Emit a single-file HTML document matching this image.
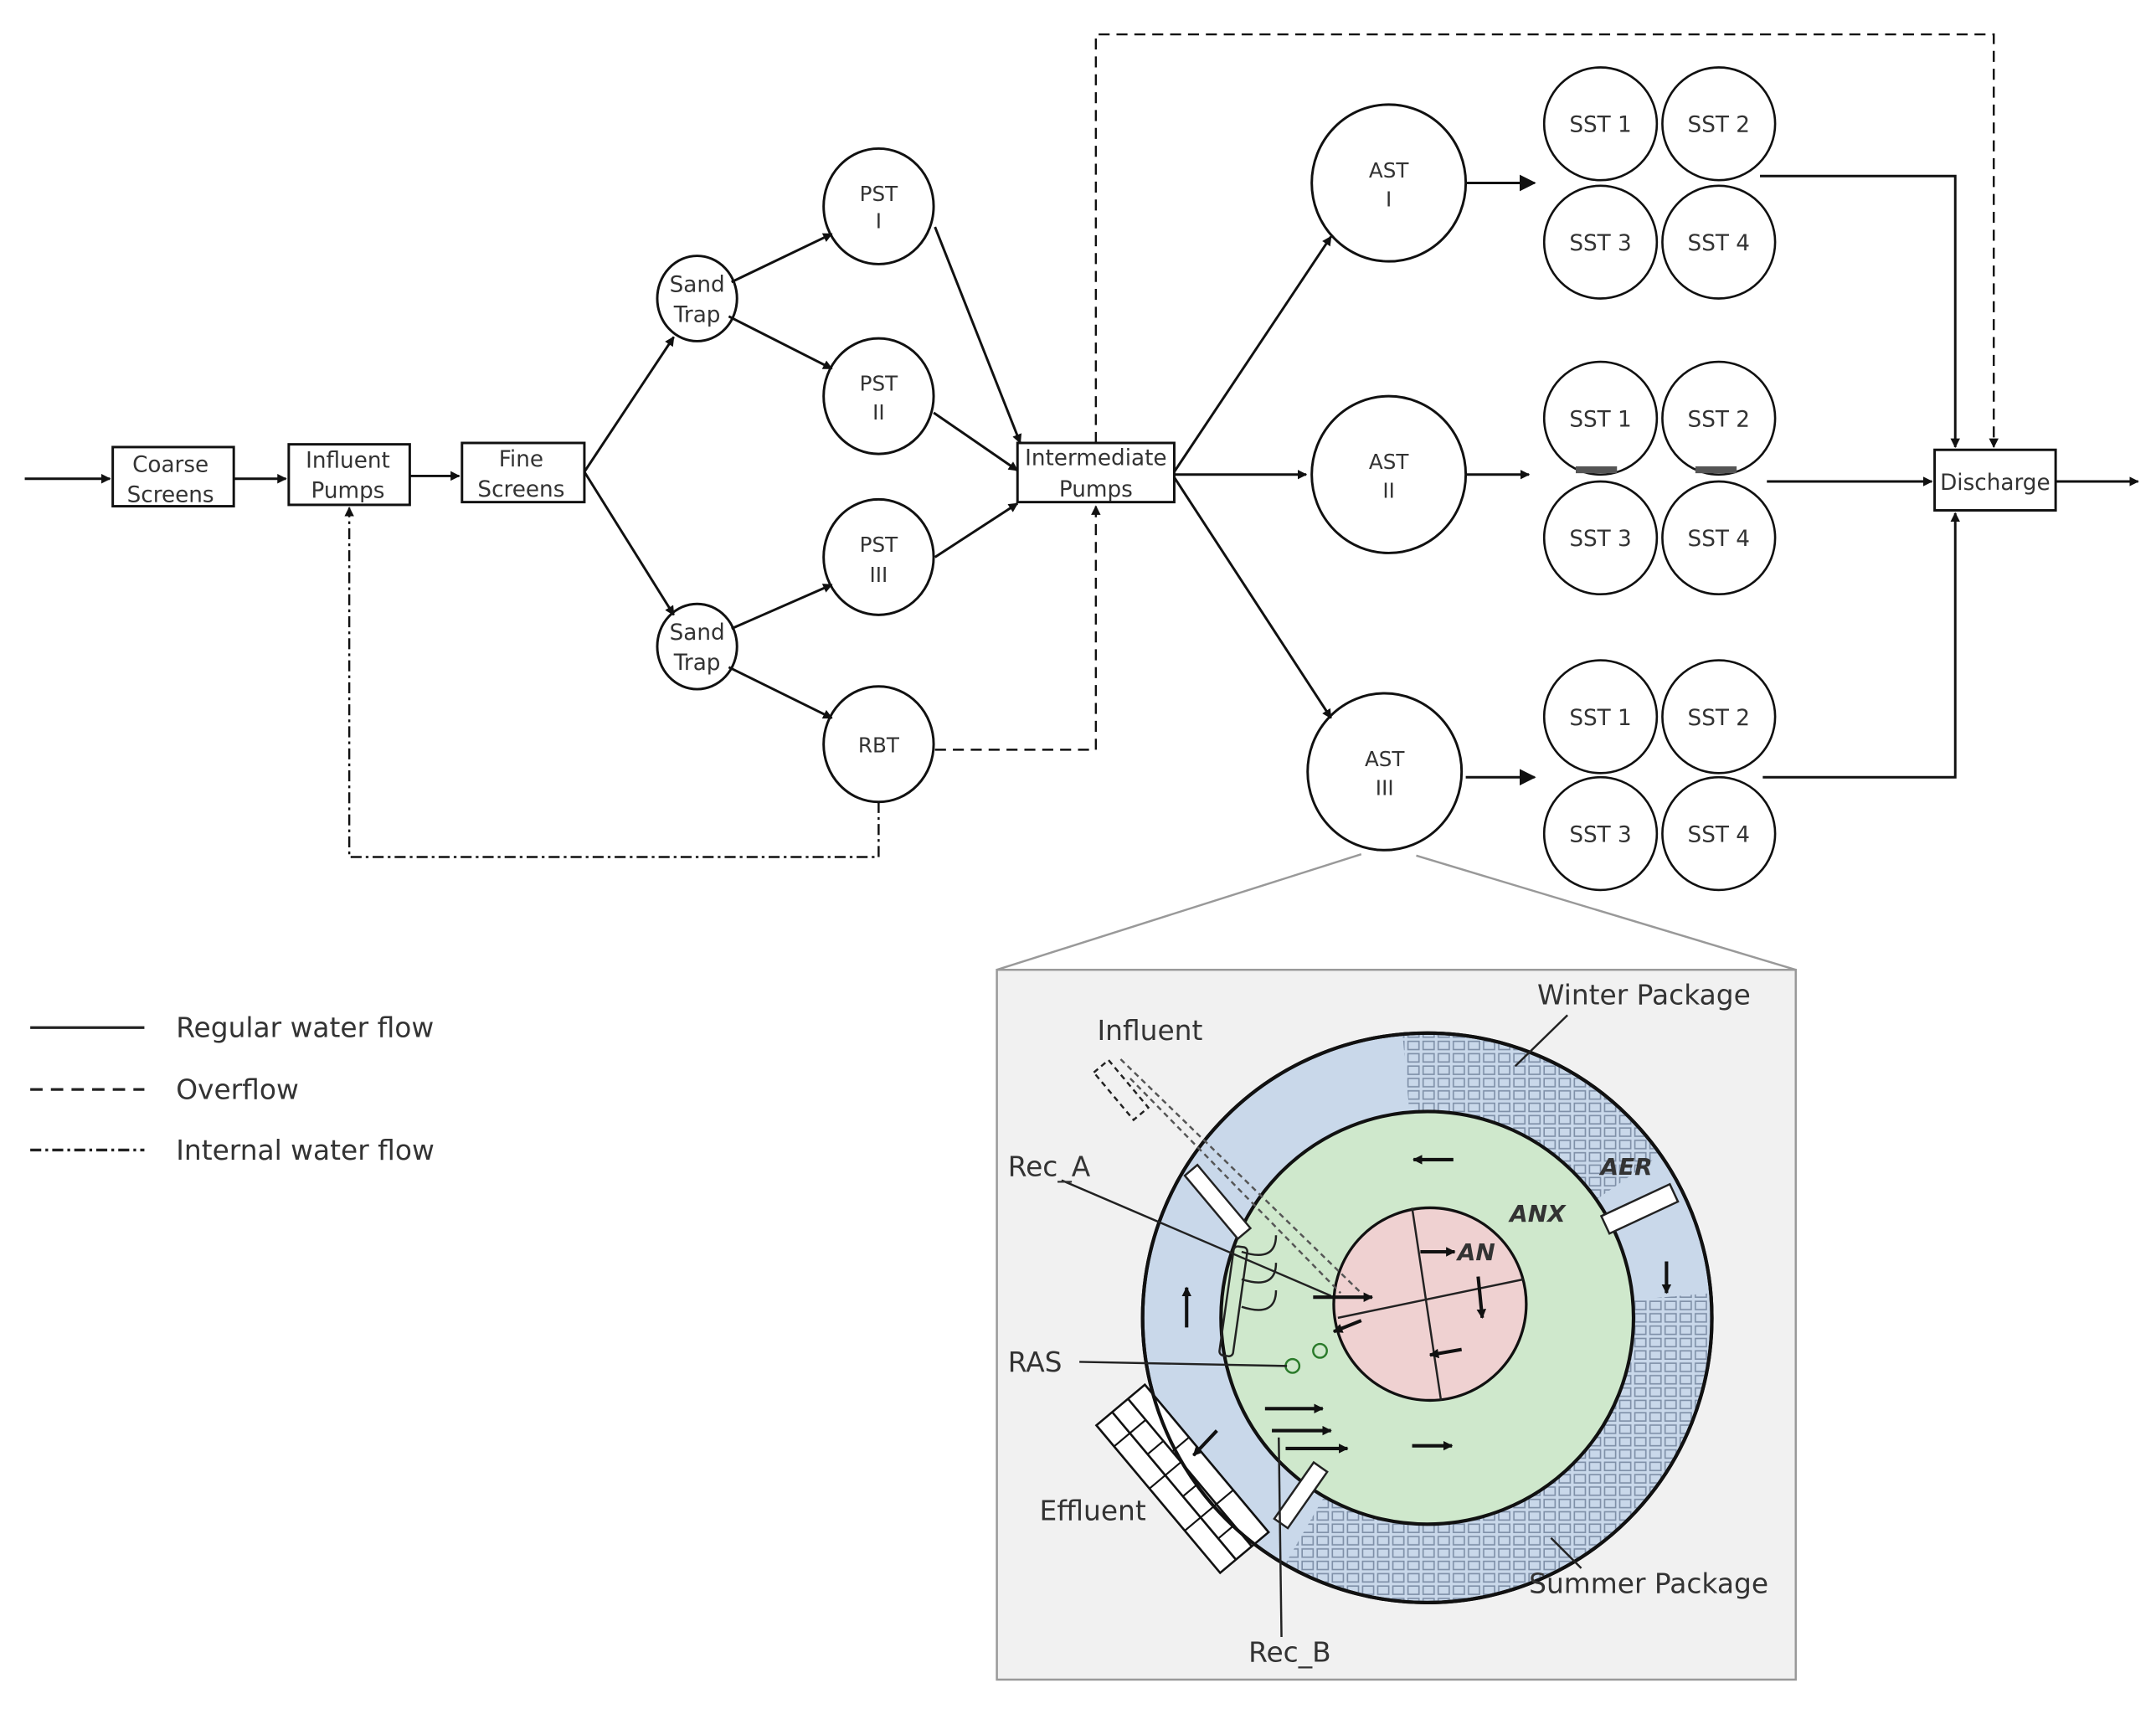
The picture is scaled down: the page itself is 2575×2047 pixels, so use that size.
<!DOCTYPE html>
<html><head><meta charset="utf-8"><style>
html,body{margin:0;padding:0;background:#fff;}
svg{display:block;}
text{font-family:"DejaVu Sans","Liberation Sans",sans-serif;fill:#333;}
</style></head><body>
<svg width="2575" height="2047" viewBox="0 0 1568 1246" preserveAspectRatio="none" xmlns="http://www.w3.org/2000/svg">
<defs>
<marker id="a" viewBox="0 0 10 10" refX="9" refY="5" markerWidth="7" markerHeight="7" orient="auto" markerUnits="userSpaceOnUse"><path d="M0,0 L10,5 L0,10 z" fill="#111"/></marker>
<marker id="b" viewBox="0 0 10 10" refX="9" refY="5" markerWidth="12" markerHeight="12" orient="auto" markerUnits="userSpaceOnUse"><path d="M0,0 L10,5 L0,10 z" fill="#111"/></marker>
<pattern id="pk" width="11" height="9" patternUnits="userSpaceOnUse"><rect x="1" y="1" width="8" height="6" fill="none" stroke="#7f90a8" stroke-width="1"/></pattern>
<clipPath id="aer"><path fill-rule="evenodd" d="M1038,751 a207,207 0 1,0 0.1,0 z M1038,808 a150,150 0 1,1 -0.1,0 z"/></clipPath>
</defs>
<rect width="1568" height="1246" fill="#fff"/>
<g stroke="#111" stroke-width="1.8" fill="none">
<rect x="82" y="325" width="88" height="43" fill="#fff"/>
<rect x="210" y="323" width="88" height="44" fill="#fff"/>
<rect x="336" y="322" width="89" height="43" fill="#fff"/>
<rect x="740" y="322" width="114" height="43" fill="#fff"/>
<rect x="1407" y="327" width="88" height="44" fill="#fff"/>
<ellipse cx="507" cy="217" rx="29" ry="31"/>
<ellipse cx="507" cy="470" rx="29" ry="31"/>
<ellipse cx="639" cy="150" rx="40" ry="42"/>
<ellipse cx="639" cy="288" rx="40" ry="42"/>
<ellipse cx="639" cy="405" rx="40" ry="42"/>
<ellipse cx="639" cy="541" rx="40" ry="42"/>
<ellipse cx="1010" cy="133" rx="56" ry="57"/>
<ellipse cx="1010" cy="345" rx="56" ry="57"/>
<ellipse cx="1007" cy="561" rx="56" ry="57"/>
<g stroke-width="1.6">
<circle cx="1164" cy="90" r="41"/><circle cx="1250" cy="90" r="41"/><circle cx="1164" cy="176" r="41"/><circle cx="1250" cy="176" r="41"/>
<circle cx="1164" cy="304" r="41"/><circle cx="1250" cy="304" r="41"/><circle cx="1164" cy="391" r="41"/><circle cx="1250" cy="391" r="41"/>
<circle cx="1164" cy="521" r="41"/><circle cx="1250" cy="521" r="41"/><circle cx="1164" cy="606" r="41"/><circle cx="1250" cy="606" r="41"/>
</g>
<line x1="18" y1="348" x2="80" y2="348" marker-end="url(#a)"/>
<line x1="170" y1="348" x2="208" y2="348" marker-end="url(#a)"/>
<line x1="298" y1="346" x2="334" y2="346" marker-end="url(#a)"/>
<line x1="425" y1="343" x2="490" y2="245" marker-end="url(#a)"/>
<line x1="425" y1="343" x2="490" y2="447" marker-end="url(#a)"/>
<line x1="532" y1="205" x2="605" y2="170" marker-end="url(#a)"/>
<line x1="530" y1="230" x2="605" y2="268" marker-end="url(#a)"/>
<line x1="532" y1="457" x2="605" y2="425" marker-end="url(#a)"/>
<line x1="530" y1="485" x2="605" y2="522" marker-end="url(#a)"/>
<line x1="680" y1="165" x2="742" y2="322" marker-end="url(#a)"/>
<line x1="679" y1="300" x2="740" y2="342" marker-end="url(#a)"/>
<line x1="680" y1="405" x2="740" y2="366" marker-end="url(#a)"/>
<line x1="854" y1="343" x2="968" y2="172" marker-end="url(#a)"/>
<line x1="854" y1="345" x2="950" y2="345" marker-end="url(#a)"/>
<line x1="854" y1="347" x2="968" y2="522" marker-end="url(#a)"/>
<line x1="1066" y1="133" x2="1116" y2="133" marker-end="url(#b)"/>
<line x1="1066" y1="345" x2="1112" y2="345" marker-end="url(#a)"/>
<line x1="1066" y1="565" x2="1116" y2="565" marker-end="url(#b)"/>
<polyline points="1280,128 1422,128 1422,325" marker-end="url(#a)"/>
<line x1="1285" y1="350" x2="1405" y2="350" marker-end="url(#a)"/>
<polyline points="1282,565 1422,565 1422,373" marker-end="url(#a)"/>
<line x1="1495" y1="350" x2="1555" y2="350" marker-end="url(#a)"/>
<polyline points="797,322 797,25 1450,25 1450,325" stroke-dasharray="8,5" stroke-width="1.5" marker-end="url(#a)"/>
<polyline points="680,545 797,545 797,368" stroke-dasharray="8,5" stroke-width="1.5" marker-end="url(#a)"/>
<polyline points="639,583 639,623 254,623 254,369" stroke-dasharray="8,3,2,3" stroke-width="1.5" marker-end="url(#a)"/>
</g>
<g fill="#555" stroke="none">
<rect x="1146" y="339" width="30" height="5"/><rect x="1233" y="339" width="30" height="5"/>
</g>
<g font-size="16" text-anchor="middle" fill="#444">
<text x="124" y="343">Coarse</text><text x="124" y="365">Screens</text>
<text x="253" y="340">Influent</text><text x="253" y="362">Pumps</text>
<text x="379" y="339">Fine</text><text x="379" y="361">Screens</text>
<text x="797" y="338">Intermediate</text><text x="797" y="361">Pumps</text>
<text x="1451" y="356">Discharge</text>
<text x="507" y="212">Sand</text><text x="507" y="234">Trap</text>
<text x="507" y="465">Sand</text><text x="507" y="487">Trap</text>
<text x="639" y="146" font-size="15">PST</text><text x="639" y="166" font-family="Liberation Serif" font-size="15">I</text>
<text x="639" y="284" font-size="15">PST</text><text x="639" y="305" font-family="Liberation Serif" font-size="15">II</text>
<text x="639" y="401" font-size="15">PST</text><text x="639" y="423" font-family="Liberation Serif" font-size="15">III</text>
<text x="639" y="547" font-size="15">RBT</text>
<text x="1010" y="129" font-size="15">AST</text><text x="1010" y="150" font-family="Liberation Serif" font-size="15">I</text>
<text x="1010" y="341" font-size="15">AST</text><text x="1010" y="362" font-family="Liberation Serif" font-size="15">II</text>
<text x="1007" y="557" font-size="15">AST</text><text x="1007" y="578" font-family="Liberation Serif" font-size="15">III</text>
<g font-size="16">
<text x="1164" y="96">SST 1</text><text x="1250" y="96">SST 2</text><text x="1164" y="182">SST 3</text><text x="1250" y="182">SST 4</text>
<text x="1164" y="310">SST 1</text><text x="1250" y="310">SST 2</text><text x="1164" y="397">SST 3</text><text x="1250" y="397">SST 4</text>
<text x="1164" y="527">SST 1</text><text x="1250" y="527">SST 2</text><text x="1164" y="612">SST 3</text><text x="1250" y="612">SST 4</text>
</g>
</g>
<g stroke="#222" stroke-width="2">
<line x1="22" y1="747" x2="105" y2="747"/>
<line x1="22" y1="792" x2="105" y2="792" stroke-dasharray="9,6"/>
<line x1="22" y1="836" x2="105" y2="836" stroke-dasharray="8,3,2,3"/>
</g>
<g font-size="20" fill="#333">
<text x="128" y="754" font-family="Liberation Sans">Regular water flow</text>
<text x="128" y="799" font-family="Liberation Sans">Overflow</text>
<text x="128" y="843" font-family="Liberation Sans">Internal water flow</text>
</g>
<line x1="990" y1="621" x2="725" y2="705" stroke="#999" stroke-width="1.5"/>
<line x1="1030" y1="622" x2="1306" y2="705" stroke="#999" stroke-width="1.5"/>
<rect x="725" y="705" width="581" height="516" fill="#f1f1f1" stroke="#999" stroke-width="1.5"/>
<circle cx="1038" cy="958" r="207" fill="#c9d8ea" stroke="#111" stroke-width="2.5"/>
<g clip-path="url(#aer)">
<polygon points="1038,958 1012,659 1150,680 1284,786" fill="url(#pk)"/>
<polygon points="1038,958 1337,932 1340,1200 1188,1218 888,1218" fill="url(#pk)"/>
</g>
<circle cx="1038" cy="958" r="150" fill="#cfe8cc" stroke="#111" stroke-width="2.5"/>
<circle cx="1040" cy="948" r="70" fill="#efd1d1" stroke="#111" stroke-width="2"/>
<g transform="rotate(50 860 1075)" stroke="#111" stroke-width="1.6" fill="#fff">
<rect x="790" y="1052" width="140" height="46"/>
<line x1="790" y1="1068" x2="930" y2="1068"/>
<line x1="790" y1="1083" x2="930" y2="1083"/>
<g stroke-width="1.3">
<line x1="810" y1="1068" x2="810" y2="1098"/><line x1="830" y1="1068" x2="830" y2="1083"/><line x1="850" y1="1068" x2="850" y2="1098"/><line x1="870" y1="1068" x2="870" y2="1083"/><line x1="890" y1="1068" x2="890" y2="1098"/><line x1="910" y1="1068" x2="910" y2="1083"/>
<line x1="840" y1="1052" x2="840" y2="1068"/><line x1="890" y1="1052" x2="890" y2="1068"/>
</g>
</g>
<circle cx="1038" cy="958" r="207" fill="none" stroke="#111" stroke-width="2.5"/>
<g stroke="#222" stroke-width="1.5" fill="none">
<line x1="1027" y1="878" x2="1048" y2="1018"/>
<line x1="973" y1="958" x2="1108" y2="930"/>
<line x1="1102" y1="775" x2="1140" y2="738"/>
<rect x="880" y="845" width="12" height="60" transform="rotate(-40 884 875)" fill="#fff"/>
<rect x="1165" y="872" width="55" height="14" transform="rotate(-25 1192 879)" fill="#fff"/>
<rect x="940" y="1062" width="12" height="50" transform="rotate(35 946 1087)" fill="#fff"/>
<rect x="892" y="906" width="10" height="80" rx="3" transform="rotate(8 897 946)"/>
<circle cx="940" cy="993" r="5" stroke="#2a7a2a"/><circle cx="960" cy="982" r="5" stroke="#2a7a2a"/>
<line x1="785" y1="990" x2="936" y2="993"/>
<line x1="772" y1="858" x2="968" y2="942"/>
<line x1="930" y1="1045" x2="932" y2="1190"/>
<line x1="1128" y1="1118" x2="1150" y2="1140"/>
<line x1="815" y1="770" x2="990" y2="940" stroke-dasharray="4,3" stroke="#555"/>
<line x1="822" y1="784" x2="975" y2="940" stroke-dasharray="4,3" stroke="#555"/>
<rect x="808" y="770" width="14" height="45" transform="rotate(-40 815 792)" stroke-dasharray="4,3"/>
<path d="M903,910 q25,8 25,-12 M903,930 q25,8 25,-12 M903,950 q25,8 25,-12"/>
</g>
<g stroke="#111" stroke-width="2.5" fill="none">
<line x1="1057" y1="843" x2="1028" y2="843" marker-end="url(#a)"/>
<line x1="1027" y1="1051" x2="1056" y2="1051" marker-end="url(#a)"/>
<line x1="863" y1="965" x2="863" y2="936" marker-end="url(#a)"/>
<line x1="1212" y1="917" x2="1212" y2="940" marker-end="url(#a)"/>
<line x1="885" y1="1040" x2="868" y2="1058" marker-end="url(#a)"/>
<line x1="1033" y1="910" x2="1058" y2="910" marker-end="url(#a)"/>
<line x1="1075" y1="928" x2="1078" y2="958" marker-end="url(#a)"/>
<line x1="1063" y1="981" x2="1040" y2="985" marker-end="url(#a)"/>
<line x1="990" y1="960" x2="970" y2="968" marker-end="url(#a)"/>
<line x1="955" y1="943" x2="998" y2="943" marker-end="url(#a)"/>
<line x1="920" y1="1024" x2="962" y2="1024" marker-end="url(#a)"/>
<line x1="925" y1="1040" x2="968" y2="1040" marker-end="url(#a)"/>
<line x1="935" y1="1053" x2="980" y2="1053" marker-end="url(#a)"/>
</g>
<g font-size="20" fill="#333">
<text x="798" y="756" font-family="Liberation Sans">Influent</text>
<text x="1118" y="730" font-family="Liberation Sans">Winter Package</text>
<text x="733" y="855" font-family="Liberation Sans">Rec_A</text>
<text x="733" y="997" font-family="Liberation Sans">RAS</text>
<text x="756" y="1105" font-family="Liberation Sans">Effluent</text>
<text x="1112" y="1158" font-family="Liberation Sans">Summer Package</text>
<text x="908" y="1208" font-family="Liberation Sans">Rec_B</text>
</g>
<g font-size="17" font-weight="bold" font-style="italic">
<text x="1164" y="854" fill="#2c3a9a" font-family="Liberation Sans">AER</text>
<text x="1098" y="888" fill="#2a8a2a" font-family="Liberation Sans">ANX</text>
<text x="1060" y="916" fill="#c02020" font-family="Liberation Sans">AN</text>
</g>
</svg>
</body></html>
